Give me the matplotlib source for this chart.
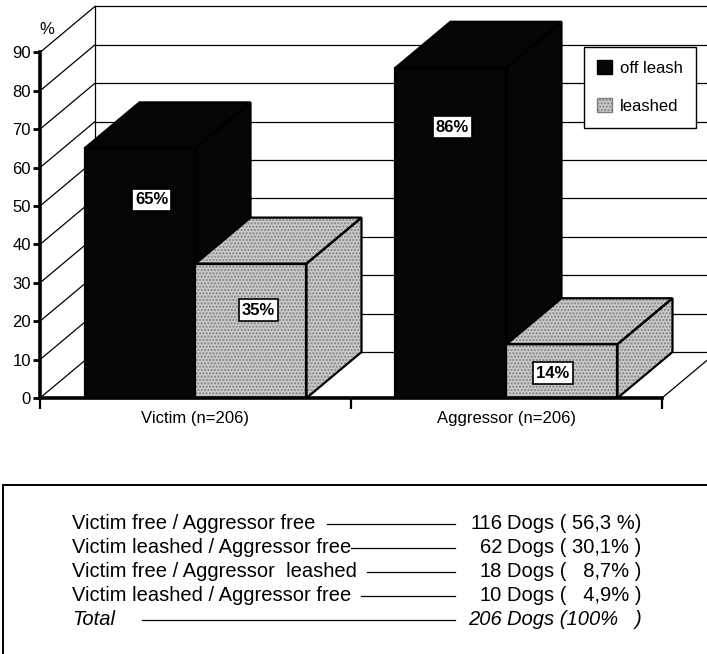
import matplotlib
matplotlib.use("Agg")
import matplotlib.pyplot as plt
from matplotlib.patches import Polygon, Patch
from matplotlib.lines import Line2D

plt.rcParams['font.family'] = ['Liberation Sans', 'DejaVu Sans']

# data
categories = ['Victim (n=206)', 'Aggressor (n=206)']
series = ['off leash', 'leashed']
off_leash = [65, 86]
leashed = [35, 14]
y_ticks = [0, 10, 20, 30, 40, 50, 60, 70, 80, 90]

combo_labels = ['Victim free / Aggressor free',
                'Victim leashed / Aggressor free',
                'Victim free / Aggressor  leashed',
                'Victim leashed / Aggressor free']
combo_counts = [116, 62, 18, 10]
combo_pcts = ['( 56,3 %)', '( 30,1% )', '(   8,7% )', '(   4,9% )']
total_count = 206
total_pct = '(100%   )'

# layout (pixels of a 707x654 picture)
W, H = 707, 654
X0, X1 = 40, 662          # front floor edge
Y0, Y90 = 398, 52.4       # front 0 and 90
PX_CAT = (X1 - X0) / 2.0
PX_PCT = (Y0 - Y90) / 90.0
DX = 55 / PX_CAT          # depth in category units
DY = 46 / PX_PCT          # depth in percent units
BW = 111 / PX_CAT         # bar width
BLACK = '#050505'
GRAY = '#c9c9c9'

fig = plt.figure(figsize=(W / 100, H / 100), dpi=100)
ax = fig.add_axes([X0 / W, (H - Y0) / H, (X1 - X0) / W, (Y0 - Y90) / H])
ax.set_xlim(0, 2)
ax.set_ylim(0, 90)
ax.patch.set_visible(False)


def fpx(x, y):
    return x / W, 1 - y / H


# back wall and left wall
for v in y_ticks:
    ax.plot([DX, 2 + DX + 0.2], [v + DY, v + DY], color='black', lw=0.9, clip_on=False, zorder=1)
    ax.plot([0, DX], [v, v + DY], color='black', lw=0.9, clip_on=False, zorder=1)
ax.plot([DX, DX], [DY, 90 + DY], color='black', lw=0.9, clip_on=False, zorder=1)
# floor right edge
ax.plot([2, 2 + DX], [0, DY], color='black', lw=0.9, clip_on=False, zorder=1)


def box(x0, x1, h, face, hatch, z):
    front = [(x0, 0), (x1, 0), (x1, h), (x0, h)]
    top = [(x0, h), (x1, h), (x1 + DX, h + DY), (x0 + DX, h + DY)]
    side = [(x1, 0), (x1 + DX, DY), (x1 + DX, h + DY), (x1, h)]
    for pts in (top, side, front):
        ax.add_patch(Polygon(pts, closed=True, facecolor=face, edgecolor='#808080' if hatch else face,
                             hatch=hatch, lw=0, clip_on=False, zorder=z))
        ax.add_patch(Polygon(pts, closed=True, fill=False, edgecolor='black', lw=1.6,
                             clip_on=False, zorder=z + 0.1))


label_dx = [11.5, 7.5, 1.5, -9]   # px
label_y = [51.6, 22.9, 70.5, 6.5]
k = 0
for i in range(len(categories)):
    c = i + 0.5
    box(c - BW, c, off_leash[i], BLACK, None, 3 + i * 2)
    box(c, c + BW, leashed[i], GRAY, '.....', 4 + i * 2)
    for x0, val in ((c - BW, off_leash[i]), (c, leashed[i])):
        ax.text(x0 + BW / 2 + label_dx[k] / PX_CAT, label_y[k], f'{val}%', ha='center', va='center',
                fontsize=12, fontweight='bold', zorder=20,
                bbox=dict(boxstyle='square,pad=0.2', fc='white', ec='black', lw=1.2))
        k += 1

# axes
for s in ('top', 'right'):
    ax.spines[s].set_visible(False)
ax.spines['left'].set_linewidth(2.6)
ax.spines['bottom'].set_linewidth(2.6)
ax.spines['left'].set_zorder(15)
ax.spines['bottom'].set_zorder(15)
ax.set_yticks(y_ticks)
ax.tick_params(axis='y', length=5, width=2, pad=1.5, labelsize=12)
ax.set_xticks([0.5, 1.5])
ax.set_xticklabels(categories)
ax.set_xticks([0, 1, 2], minor=True)
ax.tick_params(axis='x', which='major', length=0, pad=9, labelsize=12)
ax.tick_params(axis='x', which='minor', length=8, width=1.6)
ax.text((47 - X0) / PX_CAT, (Y0 - 29) / PX_PCT, '%', ha='center', va='center', fontsize=12)

# legend
handles = [Patch(facecolor=BLACK, edgecolor='black', lw=1),
           Patch(facecolor=GRAY, edgecolor='#808080', hatch='.....', lw=1)]
leg = ax.legend(handles, series, loc='upper left', bbox_to_anchor=fpx(584, 47),
                bbox_transform=fig.transFigure, fontsize=12, frameon=True, fancybox=False,
                edgecolor='black', framealpha=1, borderpad=0.8, labelspacing=1.35,
                handlelength=0.9, handleheight=0.9, handletextpad=0.45, borderaxespad=0)
leg.get_frame().set_linewidth(1.0)
leg.set_zorder(30)

# bottom table
fig.add_artist(Line2D([3 / W, 1], [1 - 485 / H] * 2, color='black', lw=1.4))
fig.add_artist(Line2D([3 / W] * 2, [1 - 485 / H, 0], color='black', lw=1.4))

rows = [(lab, str(n), p, 'normal') for lab, n, p in zip(combo_labels, combo_counts, combo_pcts)]
rows.append(('Total', str(total_count), total_pct, 'italic'))
gaps = [12, 0, 10, 10, 27]
fig.canvas.draw()
rend = fig.canvas.get_renderer()
for j, (lab, n, p, style) in enumerate(rows):
    yb = 529 + j * 24.0
    t = fig.text(*fpx(72, yb), lab, fontsize=14.5, style=style, va='baseline', ha='left')
    fig.text(*fpx(502, yb), n, fontsize=14.5, style=style, va='baseline', ha='right')
    fig.text(*fpx(507, yb), 'Dogs ' + p, fontsize=14.5, style=style, va='baseline', ha='left')
    x_end = t.get_window_extent(rend).x1
    fig.add_artist(Line2D([(x_end + gaps[j]) / W, 455 / W], [1 - (yb - 5.5) / H] * 2,
                          color='black', lw=0.9))

fig.savefig('out.png', dpi=100)
